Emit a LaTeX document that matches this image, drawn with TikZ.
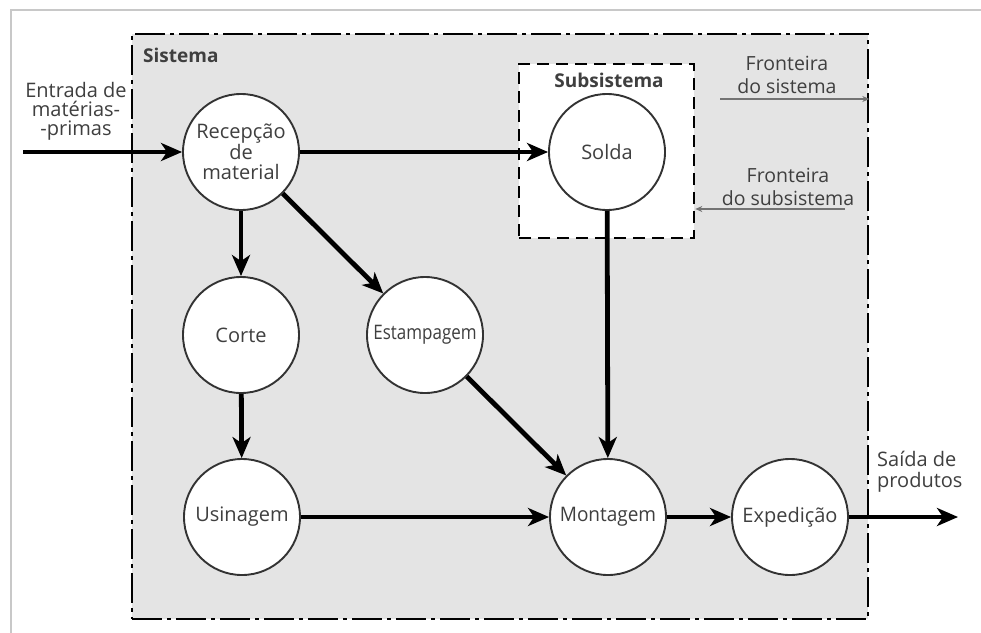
\documentclass[tikz,border=0pt]{standalone}
\usepackage{fontspec}
\setmainfont{Open Sans}
\usetikzlibrary{arrows.meta}
\definecolor{sysfill}{HTML}{E4E4E4}
\definecolor{txt}{HTML}{3F3F3F}
\definecolor{framegray}{HTML}{C8C8C8}
\begin{document}
\begin{tikzpicture}[x=1pt,y=-1pt,
  proc/.style={circle, draw=black!80, line width=1.9pt, fill=white, minimum size=116pt, inner sep=0pt, text=txt, font=\fontsize{20}{19.5}\selectfont, align=center},
  flow/.style={line width=4.8pt, -{Stealth[length=21pt,width=18pt,inset=6pt]}},
  thinarrow/.style={draw=black!55, line width=1.3pt, -{Stealth[length=7pt,width=6pt]}},
  lbl/.style={text=txt, font=\fontsize{20}{20}\selectfont, align=center, inner sep=0pt},
  boldlbl/.style={text=txt, font=\fontsize{19}{20}\selectfont\bfseries, inner sep=0pt},
]
\useasboundingbox (0,0) rectangle (981,632);
\fill[white] (0,0) rectangle (981,632);
\draw[framegray, line width=2pt] (11,640) -- (11,10) -- (990,10);

% system boundary
\node[draw, line width=2.6pt, dash pattern=on 30pt off 5pt on 4pt off 5pt, fill=sysfill, minimum width=736pt, minimum height=585pt, inner sep=0pt] (sys) at (500,326.5) {};
% subsystem boundary
\node[draw, line width=2.6pt, dash pattern=on 12pt off 7pt, fill=white, minimum width=175pt, minimum height=174pt, inner sep=0pt] (sub) at (606.5,151) {};

\node[boldlbl, anchor=west] (sistema) at (143,55) {Sistema};
\node[boldlbl] (subsistema) at (609,80) {Subsistema};

% processes
\node[proc] (rec) at (241,152) {Recepção\\de\\material};
\node[proc] (sol) at (607,152) {Solda};
\node[proc] (cor) at (241,335) {Corte};
\node[proc] (est) at (425,335) {\scalebox{0.85}[1]{Estampagem}};
\node[proc] (usi) at (242,517) {Usinagem};
\node[proc] (mon) at (608,517) {\scalebox{0.95}[1]{Montagem}};
\node[proc] (exp) at (790,517) {Expedição};

% flows
\coordinate (in) at (23,152);
\coordinate (out) at (958,517);
\draw[flow] (in) -- (rec);
\draw[flow] (rec) -- (sol);
\draw[flow] (rec) -- (cor);
\draw[flow] (rec) -- (est);
\draw[flow] (cor) -- (usi);
\draw[flow] (usi) -- (mon);
\draw[flow] (est) -- (mon);
\draw[flow] (sol) -- (mon);
\draw[flow] (mon) -- (exp);
\draw[flow] (exp) -- (out);

% outside labels
\node[lbl, font=\fontsize{20}{19}\selectfont] (entrada) at (76,111) {Entrada de\\matérias-\\-primas};
\node[lbl, align=left, anchor=west, font=\fontsize{20}{21}\selectfont] (saida) at (877,472) {Saída de\\produtos};

% boundary labels
\node[lbl, font=\fontsize{19.5}{23}\selectfont] (fsis) at (787,75) {Fronteira\\do sistema};
\node[lbl, font=\fontsize{19.5}{23}\selectfont] (fsub) at (788,187) {Fronteira\\do subsistema};
\coordinate (fs) at (720,99);
\coordinate (fb) at (845,209);
\draw[thinarrow] (fs) -- (fs -| sys.east);
\draw[thinarrow] (fb) -- (fb -| sub.east);
\end{tikzpicture}
\end{document}
